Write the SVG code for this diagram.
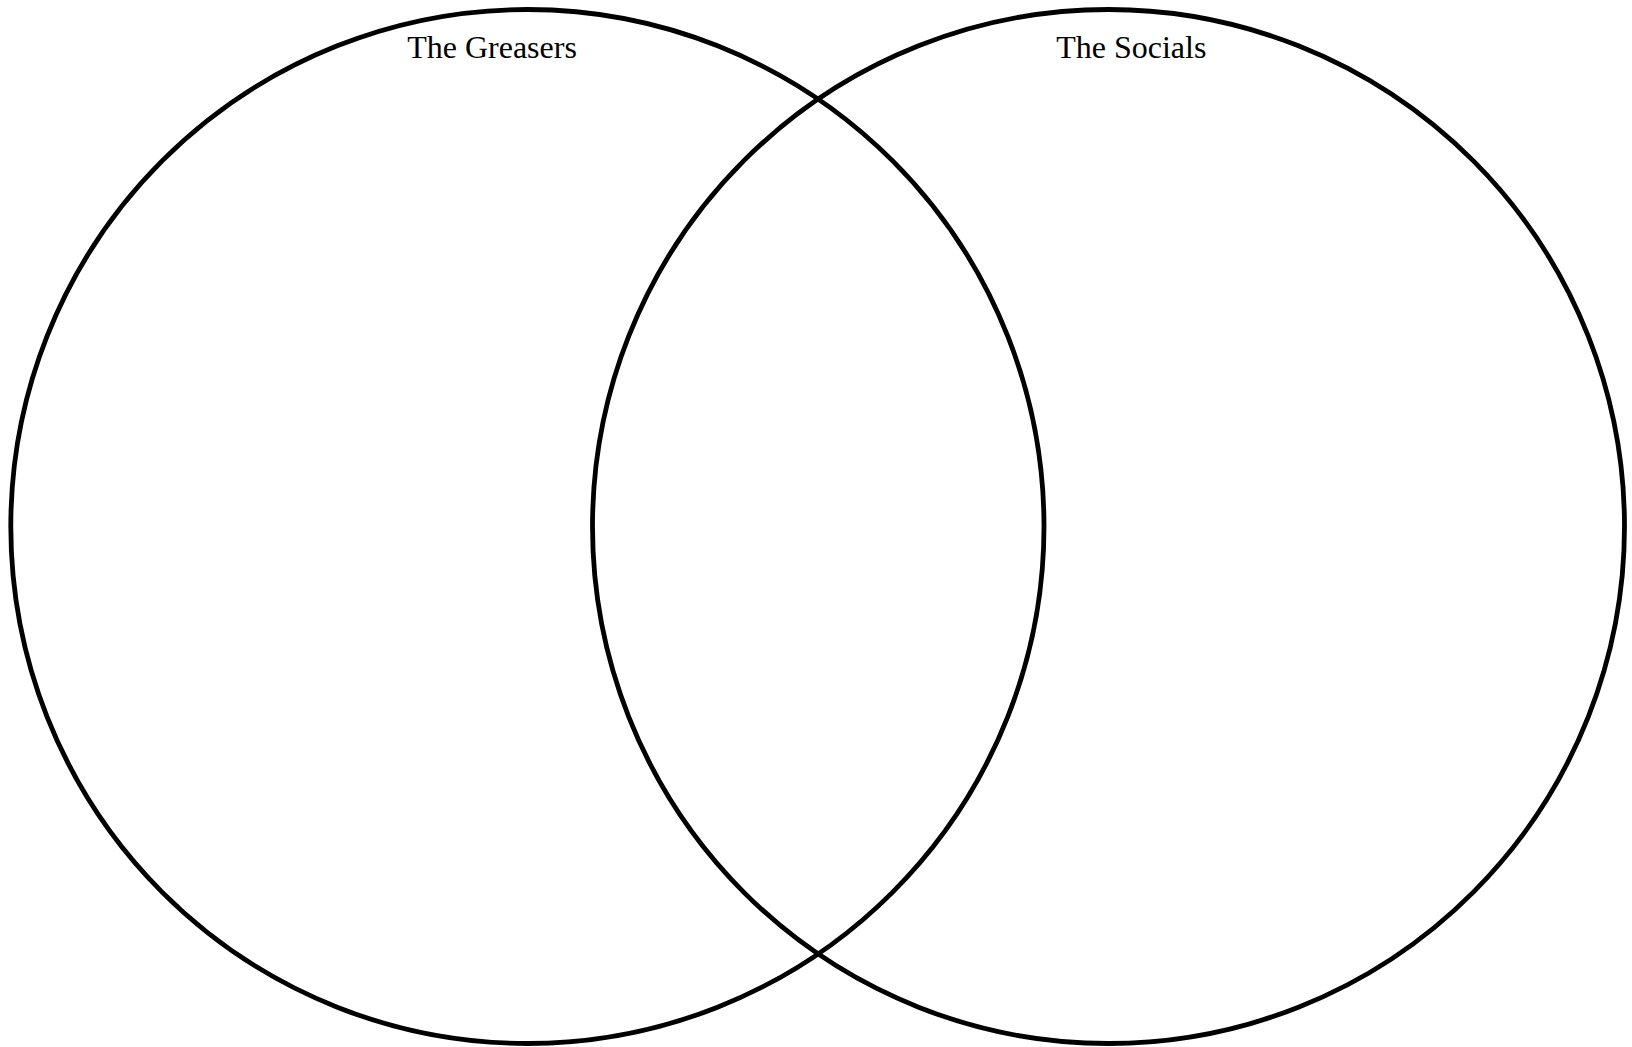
<svg xmlns="http://www.w3.org/2000/svg" width="1632" height="1047" viewBox="0 0 1632 1047">
<style>
.c{fill:none;stroke:#000;stroke-width:4.8}
.t{font-family:"Liberation Serif","Times New Roman",serif;font-size:32px;fill:#000;text-anchor:middle}
</style>
<rect width="1632" height="1047" fill="#fff"/>
<g id="greasers">
<ellipse class="c" cx="527.4" cy="526.5" rx="516.6" ry="517"/>
<text class="t" x="492" y="58">The Greasers</text>
</g>
<g id="socials">
<ellipse class="c" cx="1108.5" cy="526.5" rx="516" ry="517"/>
<text class="t" x="1131.3" y="58">The Socials</text>
</g>
<g id="connectors"></g>
</svg>
